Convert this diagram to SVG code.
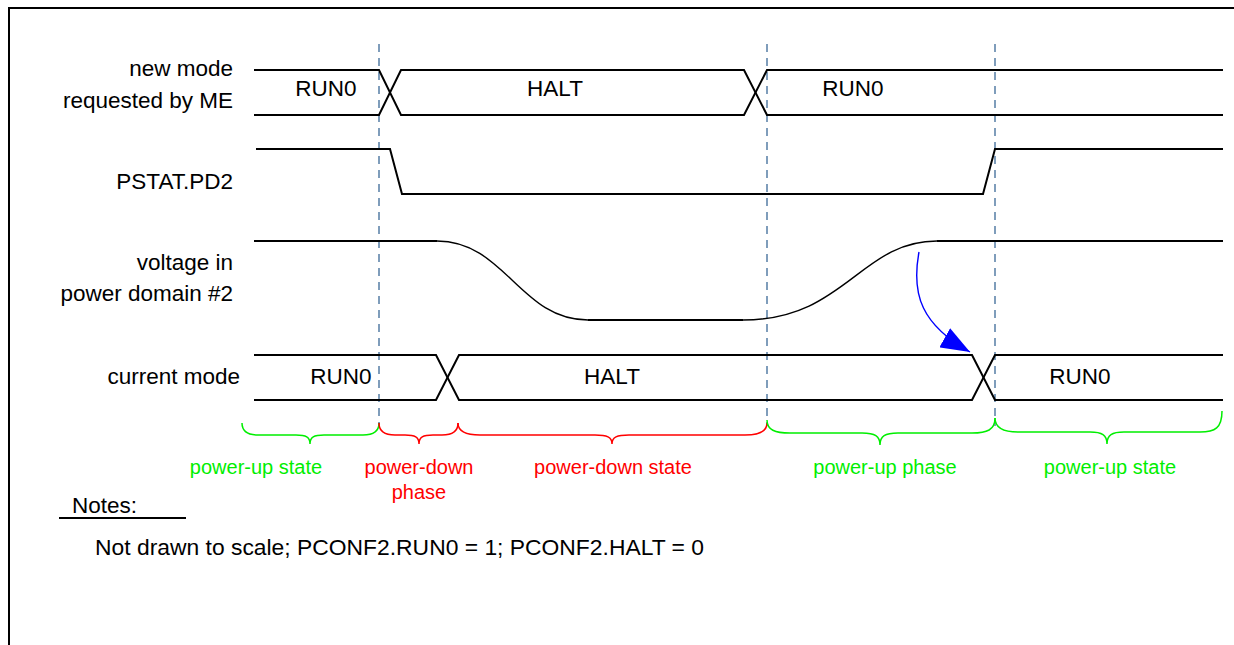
<svg xmlns="http://www.w3.org/2000/svg" width="1234" height="645" viewBox="0 0 1234 645">
<style>
text{font-family:"Liberation Sans",Arial,sans-serif;font-size:22.5px;fill:#000}
.lbl{text-anchor:end}
.mid{text-anchor:middle}
.sig{fill:none;stroke:#000;stroke-width:2}
.curve{fill:none;stroke:#000;stroke-width:1.4}
.dash{fill:none;stroke:#7f9dbb;stroke-width:2;stroke-dasharray:8 6}
.g{fill:none;stroke:#00ee00;stroke-width:1.5}
.r{fill:none;stroke:#ff0000;stroke-width:1.5}
.gt{fill:#00ee00;font-size:20px}
.rt{fill:#ff0000;font-size:20px}
</style>
<defs>
<marker id="ah" markerWidth="30" markerHeight="22" refX="29" refY="11" orient="auto" markerUnits="userSpaceOnUse">
<path d="M0,0 L29,11 L0,22 Z" fill="#0000ff"/>
</marker>
</defs>
<rect width="1234" height="645" fill="#fff"/>
<g id="frame">
<path d="M9,645 V8 H1234" fill="none" stroke="#000" stroke-width="2"/>
</g>
<g id="markers">
<line class="dash" x1="379" y1="44" x2="379" y2="426"/>
<line class="dash" x1="767" y1="44" x2="767" y2="426"/>
<line class="dash" x1="995" y1="44" x2="995" y2="426"/>
</g>
<g id="sig-newmode">
<text class="lbl" x="233" y="76">new mode</text>
<text class="lbl" x="233" y="108">requested by ME</text>
<path class="sig" d="M254,70 H379 L401,115 H744 L767,70 H1223"/>
<path class="sig" d="M254,115 H379 L401,70 H744 L767,115 H1223"/>
<text class="mid" x="326" y="96">RUN0</text>
<text class="mid" x="555" y="96">HALT</text>
<text class="mid" x="853" y="96">RUN0</text>
</g>
<g id="sig-pstat">
<text class="lbl" x="233" y="189">PSTAT.PD2</text>
<path class="sig" d="M256,149 H390 L402,194 H983 L995,149 H1223" stroke-width="1.8"/>
</g>
<g id="sig-voltage">
<text class="lbl" x="233" y="270">voltage in</text>
<text class="lbl" x="233" y="301">power domain #2</text>
<path class="sig" d="M254,241 H437"/>
<path class="curve" d="M437,241 C505,241 520,320 588,320"/>
<path class="sig" d="M588,320 H743"/>
<path class="curve" d="M743,320 C845,320 860,241 937,241"/>
<path class="sig" d="M937,241 H1223"/>
</g>
<g id="sig-current">
<text class="lbl" x="240" y="384">current mode</text>
<path class="sig" d="M254,355 H436 L459,400 H972 L995,355 H1223"/>
<path class="sig" d="M254,400 H436 L459,355 H972 L995,400 H1223"/>
<text class="mid" x="341" y="384">RUN0</text>
<text class="mid" x="612" y="384">HALT</text>
<text class="mid" x="1080" y="384">RUN0</text>
</g>
<g id="connectors">
<path d="M919,252 C911,295 922,325 970,352" fill="none" stroke="#0000ff" stroke-width="1.4" marker-end="url(#ah)"/>
</g>
<g id="phases">
<path class="g" d="M242,423 C242,432 248,435 258,435 H296 C306,435 310,437 310,444 C310,437 314,435 324,435 H363 C373,435 379,432 379,423"/>
<path class="r" d="M379,423 C379,432 385,435 395,435 H405 C415,435 419,437 419,444 C419,437 423,435 433,435 H442 C452,435 458,432 458,423"/>
<path class="r" d="M458,423 C458,432 466,435 480,435 H595 C607,435 612,437 612,444 C612,437 617,435 629,435 H745 C759,435 767,432 767,423"/>
<path class="g" d="M767,420 C767,430 775,433 790,433 H862 C875,433 880,436 880,445 C880,436 885,433 898,433 H972 C987,433 995,430 995,418"/>
<path class="g" d="M995,418 C995,428 1003,432 1018,432 H1090 C1102,432 1107,435 1107,444 C1107,435 1112,432 1124,432 H1200 C1215,432 1222,428 1222,411"/>
<text class="mid gt" x="256" y="474">power-up state</text>
<text class="mid rt" x="419" y="474">power-down</text>
<text class="mid rt" x="419" y="499">phase</text>
<text class="mid rt" x="613" y="474">power-down state</text>
<text class="mid gt" x="885" y="474">power-up phase</text>
<text class="mid gt" x="1110" y="474">power-up state</text>
</g>
<g id="notes">
<text x="72" y="513">Notes:</text>
<line x1="59" y1="518" x2="186" y2="518" stroke="#000" stroke-width="2"/>
<text x="95" y="555" textLength="609" lengthAdjust="spacingAndGlyphs">Not drawn to scale; PCONF2.RUN0 = 1; PCONF2.HALT = 0</text>
</g>
</svg>
